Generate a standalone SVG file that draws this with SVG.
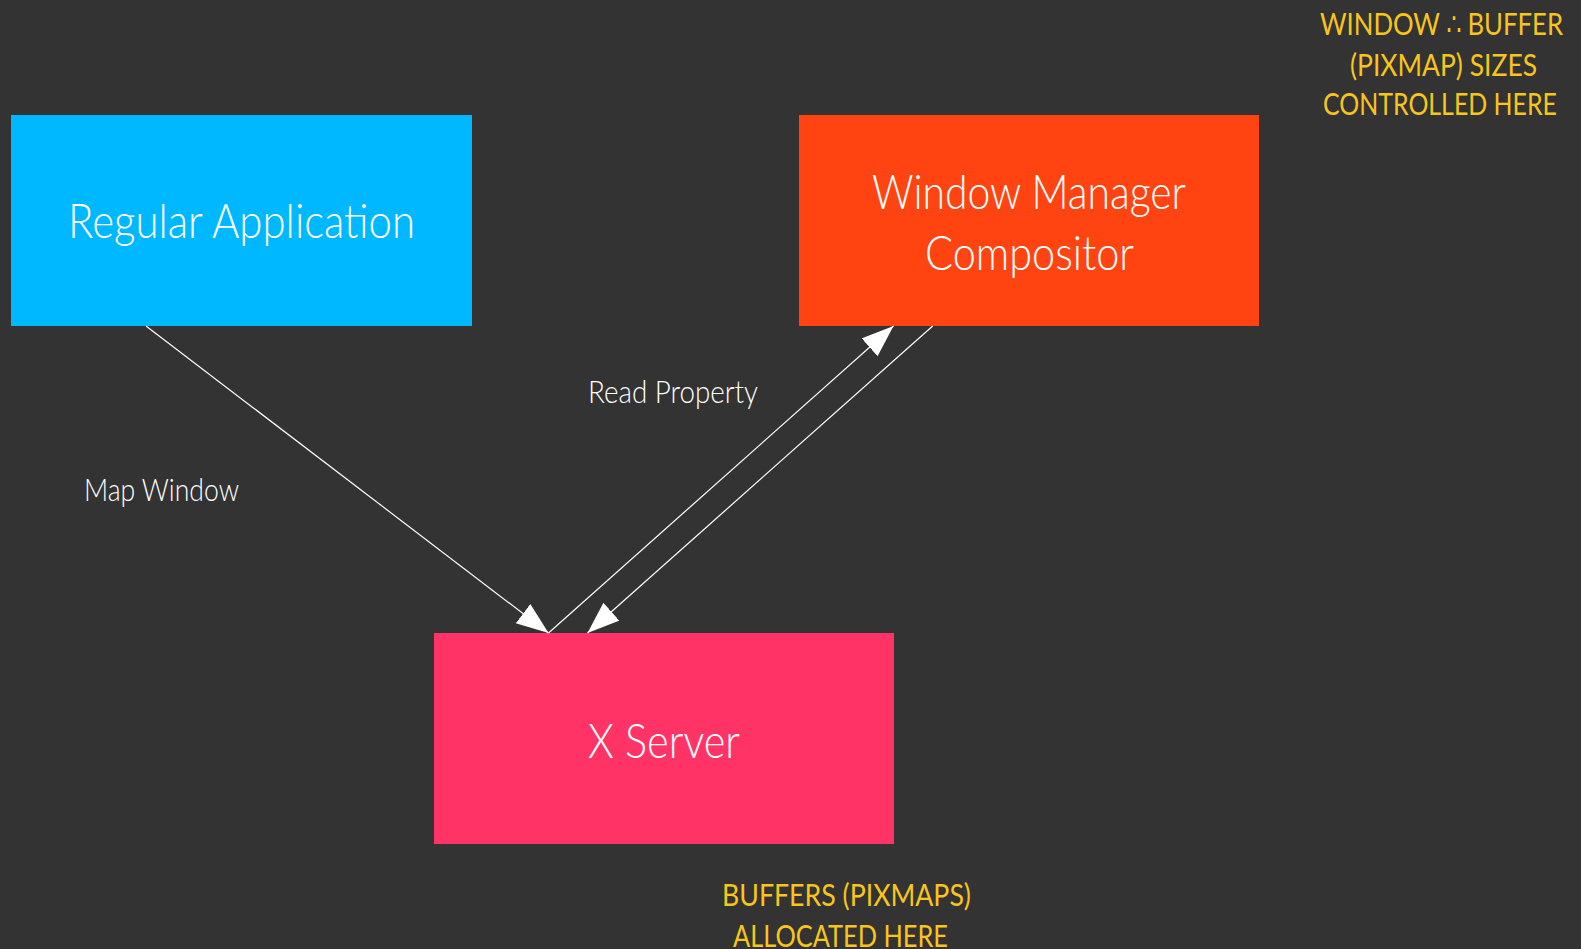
<svg xmlns="http://www.w3.org/2000/svg" width="1581" height="949" viewBox="0 0 1581 949">
  <style>
    .node-label { font-family: "Lato", "DejaVu Sans Condensed", sans-serif; font-weight: 300; font-size: 48px; fill: #ffffff; }
    .edge-label { font-family: "Lato", "DejaVu Sans Condensed", sans-serif; font-weight: 300; font-size: 32px; fill: #ffffff; }
    .note { font-family: "Lato", "DejaVu Sans Condensed", sans-serif; font-weight: 400; font-size: 31px; fill: #f8c51d; }
    .edge { stroke: #ffffff; stroke-width: 1.2; fill: none; marker-end: url(#arrow); }
  </style>
  <defs>
    <marker id="arrow" markerUnits="userSpaceOnUse" markerWidth="34" markerHeight="26" refX="32" refY="12" orient="auto">
      <path d="M0,0 L32,12 L0,24 Z" fill="#ffffff"/>
    </marker>
  </defs>

  <rect width="1581" height="949" fill="#333333"/>

  <!-- nodes -->
  <g id="regular-application">
    <rect x="11" y="115" width="461" height="211" fill="#00b8ff"/>
    <text class="node-label" x="68" y="238" textLength="347" lengthAdjust="spacingAndGlyphs">Regular Application</text>
  </g>
  <g id="window-manager">
    <rect x="799" y="115" width="460" height="211" fill="#ff4412"/>
    <text class="node-label" x="872" y="209" textLength="314" lengthAdjust="spacingAndGlyphs">Window Manager</text>
    <text class="node-label" x="925" y="270" textLength="209" lengthAdjust="spacingAndGlyphs">Compositor</text>
  </g>
  <g id="x-server">
    <rect x="434" y="633" width="460" height="211" fill="#ff3366"/>
    <text class="node-label" x="588" y="758" textLength="152" lengthAdjust="spacingAndGlyphs">X Server</text>
  </g>

  <!-- connectors -->
  <g id="connectors">
    <line class="edge" x1="146" y1="326" x2="548.5" y2="633"/>
    <line class="edge" x1="548.5" y1="633" x2="893.5" y2="326"/>
    <line class="edge" x1="932.7" y1="326" x2="587.5" y2="633"/>
    <text class="edge-label" x="84" y="501" textLength="155" lengthAdjust="spacingAndGlyphs">Map Window</text>
    <text class="edge-label" x="588" y="403" textLength="170" lengthAdjust="spacingAndGlyphs">Read Property</text>
  </g>

  <!-- annotations -->
  <g id="note-window-size">
    <text class="note" x="1320" y="35" textLength="243" lengthAdjust="spacingAndGlyphs">WINDOW ∴ BUFFER</text>
    <text class="note" x="1350" y="76" textLength="187" lengthAdjust="spacingAndGlyphs">(PIXMAP) SIZES</text>
    <text class="note" x="1323" y="115" textLength="234" lengthAdjust="spacingAndGlyphs">CONTROLLED HERE</text>
  </g>
  <g id="note-buffers">
    <text class="note" x="722" y="906" textLength="249" lengthAdjust="spacingAndGlyphs">BUFFERS (PIXMAPS)</text>
    <text class="note" x="733" y="947" textLength="215" lengthAdjust="spacingAndGlyphs">ALLOCATED HERE</text>
  </g>
</svg>
